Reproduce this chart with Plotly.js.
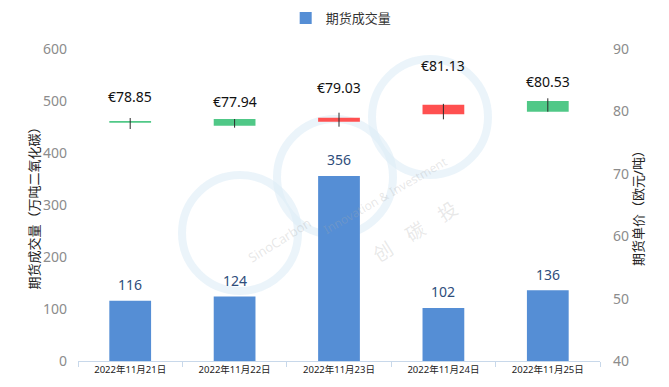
<!DOCTYPE html>
<html>
<head>
<meta charset="utf-8">
<script src="https://cdn.plot.ly/plotly-3.0.1.min.js"></script>
<style>html,body{margin:0;padding:0;background:#fff;}#chart{width:669px;height:387px;}</style>
</head>
<body>
<div id="chart"></div>
<script>
// ---- data ----
const dates = ['2022年11月21日', '2022年11月22日', '2022年11月23日', '2022年11月24日', '2022年11月25日'];
const volume = [116, 124, 356, 102, 136];
const openPrice = [78.46, 78.78, 78.35, 79.54, 81.67];
const closePrice = [78.19, 77.71, 78.99, 81.05, 79.95];
const highPrice = [78.94, 78.78, 79.79, 81.21, 82.10];
const lowPrice = [77.18, 77.39, 77.55, 78.73, 79.95];
const priceLabels = ['€78.85', '€77.94', '€79.03', '€81.13', '€80.53'];

// ---- styles ----
const FONT = 'Noto Sans, Noto Sans CJK SC, sans-serif';
const BLUE = '#558ED5';
const UP = '#FF5050';
const DOWN = '#50C887';
const priceLabelLift = [22, 18, 25, 38, 17];

const W = 669, H = 387;
const M = {l: 78, r: 69, t: 49, b: 26};
const PW = W - M.l - M.r, PH = H - M.t - M.b;
const px = x => (x - M.l) / PW;
const py = y => (H - M.b - y) / PH;

const bodyBase = openPrice.map((o, i) => Math.min(o, closePrice[i]));
const bodyLen = openPrice.map((o, i) => Math.abs(closePrice[i] - o));
const bodyColor = openPrice.map((o, i) => closePrice[i] >= o ? UP : DOWN);

const wickX = [], wickY = [];
dates.forEach((d, i) => { wickX.push(d, d, null); wickY.push(lowPrice[i], highPrice[i], null); });

const traces = [
  {type: 'bar', name: '期货成交量', x: dates, y: volume, marker: {color: BLUE}, yaxis: 'y', hoverinfo: 'x+y'},
  {type: 'bar', x: dates, y: bodyLen, base: bodyBase, marker: {color: bodyColor}, yaxis: 'y2', showlegend: false},
  {type: 'scatter', mode: 'lines', x: wickX, y: wickY, line: {color: '#2A2A2A', width: 1}, yaxis: 'y2', showlegend: false, hoverinfo: 'skip'}
];

const annotations = [];
dates.forEach((d, i) => {
  annotations.push({x: d, y: volume[i], xref: 'x', yref: 'y', text: String(volume[i]), showarrow: false,
    yshift: 16, font: {family: FONT, size: 14, color: '#2E4D7B'}});
  annotations.push({x: d, y: highPrice[i], xref: 'x', yref: 'y2', text: priceLabels[i], showarrow: false,
    yshift: priceLabelLift[i], font: {family: FONT, size: 14, color: '#111111'}});
});
// watermark text
const wm = [
  {t: 'SinoCarbon', x: 242, y: 240, a: -32, s: 13, c: 'rgba(170,170,170,0.28)'},
  {t: 'Innovation & Investment', x: 385, y: 150, a: -30, s: 12, c: 'rgba(170,170,170,0.28)'},
  {t: '创　碳　投', x: 415, y: 232, a: -32, s: 19, c: 'rgba(150,150,150,0.22)'}
];
wm.forEach(w => annotations.push({xref: 'paper', yref: 'paper', x: px(w.x), y: py(w.y), text: w.t, textangle: w.a,
  showarrow: false, font: {family: FONT, size: w.s, color: w.c}}));

const rings = [[240, 233, 58], [335, 177, 58], [430, 117, 58]];
const shapes = rings.map(r => ({type: 'circle', xref: 'paper', yref: 'paper', layer: 'below',
  x0: px(r[0] - r[2]), x1: px(r[0] + r[2]), y0: py(r[1] + r[2]), y1: py(r[1] - r[2]),
  line: {color: 'rgba(222,236,247,0.6)', width: 8}}));

const layout = {
  width: W, height: H, margin: M,
  paper_bgcolor: '#ffffff', plot_bgcolor: 'rgba(0,0,0,0)',
  font: {family: FONT, color: '#333333'},
  barmode: 'overlay', bargap: 0.6,
  showlegend: true,
  legend: {orientation: 'h', xref: 'container', yref: 'container', x: 0.51, xanchor: 'center',
    y: 1 - 18 / H, yanchor: 'middle', itemwidth: 30,
    font: {family: FONT, size: 13, color: '#333333'}},
  xaxis: {type: 'category', showgrid: false, zeroline: false, showline: true, linecolor: '#C8D8EA', linewidth: 1,
    ticks: 'outside', tickson: 'boundaries', ticklen: 5, tickcolor: '#C8D8EA',
    tickfont: {family: FONT, size: 9.5, color: '#222222'}},
  yaxis: {range: [0, 600], dtick: 100, showgrid: false, zeroline: false, showline: false, ticks: '',
    ticklabelstandoff: 10, tickfont: {family: FONT, size: 14, color: '#8C8C8C'},
    title: {text: '期货成交量（万吨二氧化碳）', standoff: 0, font: {family: FONT, size: 13, color: '#222222'}}},
  yaxis2: {range: [40, 90], dtick: 10, overlaying: 'y', side: 'right', showgrid: false, zeroline: false, showline: false, ticks: '',
    ticklabelstandoff: 12, tickfont: {family: FONT, size: 14, color: '#8C8C8C'},
    title: {text: '期货单价（欧元/吨）', standoff: 0, font: {family: FONT, size: 13, color: '#222222'}}},
  annotations: annotations,
  shapes: shapes
};

Plotly.newPlot('chart', traces, layout, {displayModeBar: false, staticPlot: true});
</script>
</body>
</html>
